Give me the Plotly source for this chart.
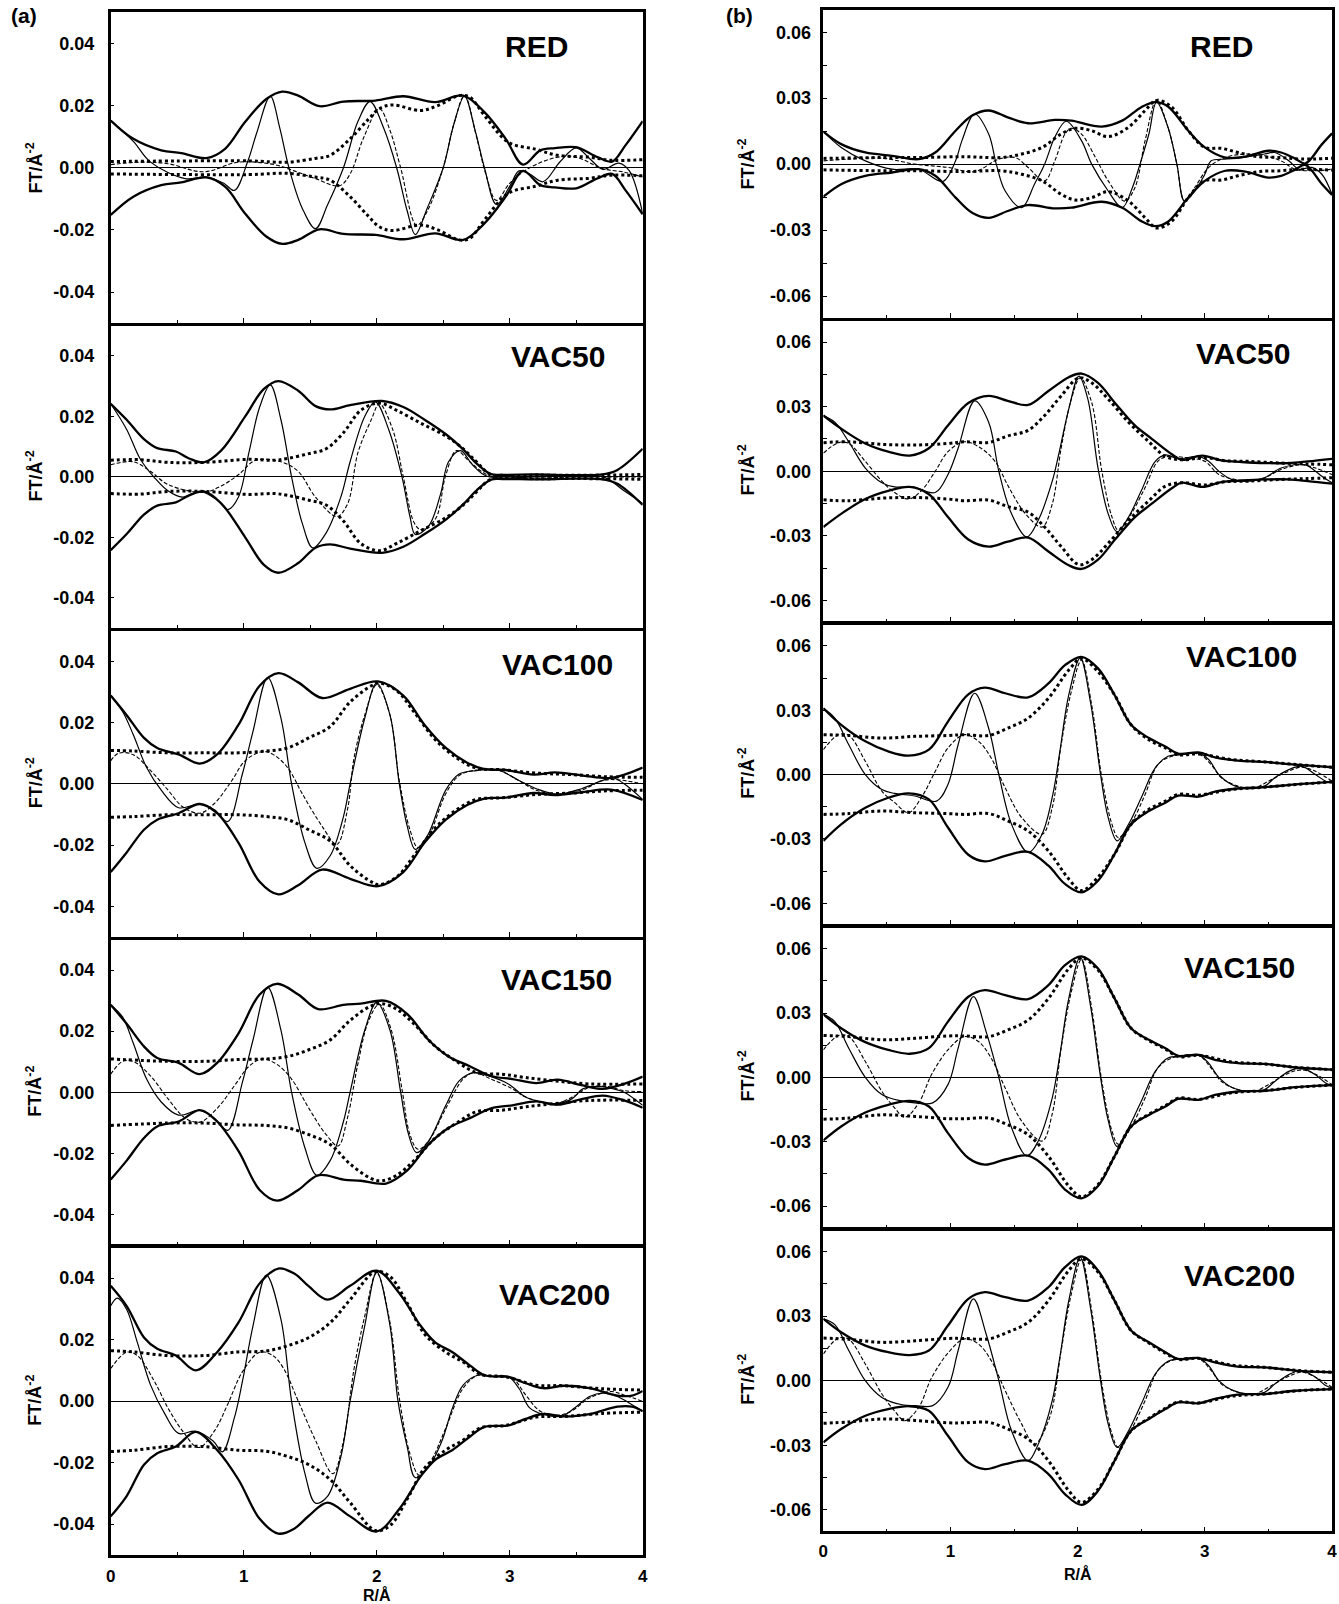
import plotly.graph_objects as go

W, H = 1339, 1604

# ------------------------------------------------------------------
# Data: (R / Å, FT / Å^-2) knots
# MAG = |FT| experimental, IM = Im(FT) experimental,
# FMAG = |FT| fit, FIM = Im(FT) fit
# ------------------------------------------------------------------
# ---------------- column (a) ----------------
A_RED_MAG = [(0, 0.0152), (0.17, 0.0093), (0.38, 0.0056), (0.53, 0.0047), (0.72, 0.0031), (0.86, 0.0061),
             (1.01, 0.0147), (1.17, 0.0221), (1.29, 0.0245), (1.41, 0.0232), (1.57, 0.0198), (1.75, 0.0213),
             (1.99, 0.0216), (2.2, 0.0230), (2.44, 0.0211), (2.65, 0.0232), (2.81, 0.0179), (2.97, 0.0093),
             (3.1, 0.0010), (3.23, 0.0056), (3.34, 0.0063), (3.5, 0.0066), (3.66, 0.0034), (3.77, 0.0020),
             (3.87, 0.0072), (4.0, 0.0150)]
A_RED_IM = [(0, 0.0152), (0.17, 0.0085), (0.3, 0.0018), (0.56, -0.0035), (0.72, -0.0030), (0.85, -0.005),
            (0.93, -0.0073), (1.03, 0.002), (1.1, 0.0115), (1.2, 0.023), (1.27, 0.013), (1.34, 0.0),
            (1.44, -0.013), (1.54, -0.0196), (1.63, -0.012), (1.75, 0.0), (1.86, 0.015), (1.95, 0.0213),
            (2.05, 0.013), (2.15, 0.0), (2.23, -0.014), (2.29, -0.0215), (2.38, -0.013), (2.5, 0.0),
            (2.58, 0.014), (2.66, 0.023), (2.74, 0.012), (2.81, 0.0), (2.9, -0.0118), (3.0, -0.006),
            (3.07, -0.001), (3.15, -0.002), (3.25, -0.0045), (3.38, 0.002), (3.5, 0.0064), (3.6, 0.003),
            (3.7, -0.0005), (3.82, 0.0015), (3.9, -0.001), (4.0, -0.0148)]
A_RED_FMAG = [(0, 0.0020), (1.04, 0.0022), (1.33, 0.0018), (1.54, 0.0030), (1.65, 0.0040), (1.8, 0.0093),
              (1.94, 0.0157), (2.02, 0.0190), (2.12, 0.0202), (2.33, 0.0184), (2.46, 0.0200), (2.62, 0.0232),
              (2.7, 0.0227), (2.81, 0.0168), (2.99, 0.0082), (3.2, 0.0059), (3.36, 0.0040), (3.6, 0.0034),
              (3.76, 0.0024), (4.0, 0.0026)]
A_RED_FIM = [(0, 0.001), (0.22, 0.0018), (0.43, 0.0013), (0.7, -0.0013), (0.96, 0.0018), (1.23, 0.001),
             (1.38, -0.001), (1.54, -0.0035), (1.72, -0.0058), (1.8, -0.002), (1.9, 0.0095), (2.02, 0.019),
             (2.1, 0.012), (2.18, 0.0), (2.3, -0.0185), (2.38, -0.014), (2.5, 0.0), (2.58, 0.014),
             (2.66, 0.0232), (2.75, 0.01), (2.82, -0.002), (2.9, -0.0105), (3.0, -0.005), (3.15, 0.0),
             (3.36, 0.0034), (3.5, 0.0034), (3.7, -0.0003), (3.86, -0.0014), (4.0, -0.003)]

A_V50_MAG = [(0, 0.0242), (0.12, 0.0189), (0.25, 0.0125), (0.35, 0.0095), (0.49, 0.0084), (0.59, 0.0061),
             (0.7, 0.0048), (0.83, 0.0087), (1.01, 0.0199), (1.15, 0.0290), (1.26, 0.0317), (1.41, 0.0285),
             (1.54, 0.0234), (1.65, 0.0223), (1.8, 0.0237), (2.04, 0.0251), (2.2, 0.0231), (2.36, 0.0189),
             (2.52, 0.0141), (2.65, 0.0091), (2.75, 0.0045), (2.86, 0.0009), (2.95, 0.0007), (3.2, 0.0008),
             (3.5, 0.0006), (3.7, 0.0008), (3.81, 0.0023), (4.0, 0.0093)]
A_V50_IM = [(0, 0.0242), (0.12, 0.0157), (0.22, 0.0061), (0.33, -0.0003), (0.43, -0.0046), (0.54, -0.0067),
            (0.67, -0.0048), (0.8, -0.0076), (0.88, -0.0108), (0.96, -0.0067), (1.04, 0.0082), (1.12, 0.0231),
            (1.2, 0.0304), (1.28, 0.0189), (1.36, 0.0), (1.44, -0.0153), (1.52, -0.0235), (1.62, -0.0185),
            (1.73, -0.0067), (1.8, 0.005), (1.91, 0.020), (1.99, 0.0248), (2.09, 0.0157), (2.19, 0.0),
            (2.25, -0.0131), (2.29, -0.019), (2.39, -0.0163), (2.48, -0.0057), (2.54, 0.005), (2.63, 0.0087),
            (2.72, 0.004), (2.83, 0.0002), (3.2, 0.0), (3.7, 0.0), (3.86, -0.0046), (4.0, -0.0088)]
A_V50_FMAG = [(0, 0.0055), (0.22, 0.0057), (0.43, 0.0048), (0.7, 0.0048), (1.04, 0.0058), (1.23, 0.0055),
              (1.33, 0.0061), (1.49, 0.0077), (1.62, 0.0093), (1.75, 0.0146), (1.88, 0.0220), (2.02, 0.0244),
              (2.15, 0.0220), (2.33, 0.0178), (2.52, 0.0135), (2.65, 0.0093), (2.75, 0.0050), (2.86, 0.0008),
              (3.2, 0.0006), (3.7, 0.0006), (4.0, 0.0008)]
A_V50_FIM = [(0, 0.004), (0.17, 0.005), (0.3, 0.0018), (0.43, -0.0025), (0.7, -0.0051), (0.83, -0.003),
             (0.96, 0.0007), (1.09, 0.0055), (1.28, 0.005), (1.41, 0.0018), (1.54, -0.0067), (1.7, -0.0131),
             (1.78, -0.009), (1.86, 0.0082), (1.96, 0.019), (2.02, 0.0242), (2.12, 0.0157), (2.2, 0.0),
             (2.28, -0.015), (2.33, -0.0174), (2.44, -0.014), (2.52, 0.0007), (2.6, 0.0087), (2.7, 0.005),
             (2.86, 0.0002), (3.5, 0.0), (4.0, 0.0)]

A_V100_MAG = [(0, 0.0288), (0.12, 0.0224), (0.25, 0.0150), (0.35, 0.0117), (0.51, 0.0096), (0.67, 0.0066),
              (0.8, 0.0096), (0.96, 0.0192), (1.12, 0.0320), (1.26, 0.0361), (1.41, 0.0331), (1.59, 0.0280),
              (1.8, 0.0310), (2.01, 0.0334), (2.2, 0.0288), (2.36, 0.0192), (2.52, 0.0117), (2.68, 0.0069),
              (2.81, 0.0048), (2.97, 0.0045), (3.18, 0.0030), (3.34, 0.0037), (3.55, 0.0027), (3.76, 0.0019),
              (4.0, 0.0053)]
A_V100_IM = [(0, 0.0288), (0.09, 0.0235), (0.17, 0.016), (0.27, 0.0053), (0.38, -0.0021), (0.51, -0.0078),
             (0.67, -0.0066), (0.78, -0.0085), (0.88, -0.0123), (0.99, 0.0032), (1.07, 0.0171), (1.18, 0.0347),
             (1.28, 0.0214), (1.36, 0.0), (1.46, -0.0192), (1.55, -0.0276), (1.65, -0.0235), (1.75, -0.0107),
             (1.8, 0.0), (1.91, 0.0214), (2.0, 0.0329), (2.1, 0.0224), (2.17, 0.0), (2.23, -0.0139),
             (2.29, -0.0214), (2.38, -0.0171), (2.52, -0.002), (2.62, 0.0032), (2.75, 0.0043), (2.91, 0.0045),
             (3.07, 0.0011), (3.2, -0.0016), (3.36, -0.0034), (3.54, -0.0016), (3.7, 0.0011), (3.78, 0.0019),
             (3.86, 0.0), (4.0, -0.0051)]
A_V100_FMAG = [(0, 0.0109), (0.17, 0.0107), (0.43, 0.0101), (0.7, 0.0101), (0.96, 0.0101), (1.17, 0.0107),
               (1.33, 0.0117), (1.49, 0.0150), (1.65, 0.0187), (1.8, 0.0267), (1.96, 0.0320), (2.02, 0.0329),
               (2.15, 0.0304), (2.28, 0.0235), (2.44, 0.0144), (2.6, 0.0085), (2.75, 0.0051), (2.94, 0.0046),
               (3.2, 0.0035), (3.47, 0.0030), (3.73, 0.0023), (4.0, 0.0021)]
A_V100_FIM = [(0, 0.0075), (0.06, 0.010), (0.17, 0.0095), (0.3, 0.0043), (0.43, -0.002), (0.54, -0.0075),
              (0.67, -0.0096), (0.78, -0.0064), (0.91, 0.001), (1.01, 0.0075), (1.14, 0.0105), (1.22, 0.0096),
              (1.33, 0.0053), (1.44, -0.0032), (1.59, -0.0139), (1.7, -0.0198), (1.78, -0.0085), (1.83, 0.0085),
              (1.91, 0.0224), (2.0, 0.0323), (2.1, 0.0224), (2.17, 0.001), (2.25, -0.015), (2.31, -0.0208),
              (2.39, -0.0171), (2.52, -0.0032), (2.62, 0.0027), (2.75, 0.0045), (2.91, 0.0045), (3.07, 0.001),
              (3.2, -0.0021), (3.36, -0.0034), (3.55, -0.0019), (3.7, 0.0011), (3.81, 0.0013), (4.0, 0.0)]

A_V150_MAG = [(0, 0.0286), (0.12, 0.0224), (0.25, 0.0150), (0.35, 0.0112), (0.51, 0.0096), (0.67, 0.0059),
              (0.8, 0.0096), (0.96, 0.0192), (1.12, 0.0320), (1.25, 0.0355), (1.41, 0.0320), (1.56, 0.0272),
              (1.75, 0.0286), (1.88, 0.0290), (2.07, 0.0299), (2.23, 0.0256), (2.39, 0.0171), (2.54, 0.0117),
              (2.7, 0.0085), (2.86, 0.0053), (3.02, 0.0043), (3.2, 0.0030), (3.36, 0.0041), (3.54, 0.0023),
              (3.7, 0.0011), (3.86, 0.0027), (4.0, 0.0051)]
A_V150_IM = [(0, 0.0286), (0.09, 0.0246), (0.17, 0.016), (0.27, 0.0043), (0.38, -0.0032), (0.51, -0.0075),
             (0.67, -0.0059), (0.78, -0.0085), (0.88, -0.0125), (0.99, 0.0032), (1.07, 0.0171), (1.18, 0.0344),
             (1.28, 0.0203), (1.36, 0.0), (1.46, -0.0182), (1.55, -0.0272), (1.65, -0.0224), (1.75, -0.0096),
             (1.8, 0.0), (1.91, 0.0203), (2.0, 0.0294), (2.1, 0.0203), (2.18, 0.0), (2.24, -0.0139),
             (2.3, -0.0198), (2.39, -0.016), (2.52, -0.0043), (2.62, 0.0037), (2.73, 0.0064), (2.86, 0.0051),
             (2.99, 0.0027), (3.12, -0.0016), (3.23, -0.0032), (3.34, -0.004), (3.47, -0.0021), (3.55, 0.0011),
             (3.68, 0.0019), (3.78, 0.0011), (3.86, 0.0), (4.0, -0.0043)]
A_V150_FMAG = [(0, 0.0109), (0.43, 0.0101), (0.7, 0.0101), (0.96, 0.0107), (1.17, 0.0109), (1.33, 0.0117),
               (1.49, 0.0139), (1.65, 0.0171), (1.8, 0.0235), (1.96, 0.0283), (2.04, 0.0290), (2.15, 0.0272),
               (2.28, 0.0224), (2.44, 0.0150), (2.6, 0.0101), (2.75, 0.0064), (2.94, 0.0059), (3.12, 0.0048),
               (3.34, 0.0037), (3.6, 0.0027), (4.0, 0.0027)]
A_V150_FIM = [(0, 0.0059), (0.09, 0.0101), (0.17, 0.0101), (0.3, 0.0053), (0.43, -0.0021), (0.56, -0.0085),
              (0.67, -0.0098), (0.8, -0.0053), (0.93, 0.0021), (1.04, 0.0085), (1.14, 0.0109), (1.25, 0.0091),
              (1.36, 0.0043), (1.49, -0.0053), (1.62, -0.0139), (1.71, -0.0176), (1.78, -0.0085), (1.86, 0.0096),
              (1.94, 0.0235), (2.02, 0.0288), (2.11, 0.0203), (2.19, 0.001), (2.25, -0.0139), (2.31, -0.0187),
              (2.39, -0.016), (2.52, -0.0053), (2.65, 0.0043), (2.73, 0.0064), (2.86, 0.0043), (3.02, 0.0011),
              (3.12, -0.0016), (3.34, -0.0037), (3.47, -0.0016), (3.6, 0.0016), (3.73, 0.0019), (3.86, 0.0005),
              (4.0, 0.0002)]

A_V200_MAG = [(0, 0.0375), (0.12, 0.0309), (0.25, 0.0207), (0.35, 0.0170), (0.49, 0.0148), (0.64, 0.0100),
              (0.8, 0.0159), (0.96, 0.0255), (1.12, 0.0383), (1.26, 0.0431), (1.38, 0.0415), (1.49, 0.0373),
              (1.63, 0.0330), (1.8, 0.0375), (2.0, 0.0424), (2.17, 0.0351), (2.33, 0.0245), (2.44, 0.0191),
              (2.57, 0.0159), (2.7, 0.0116), (2.81, 0.0084), (2.99, 0.0079), (3.12, 0.0058), (3.25, 0.0042),
              (3.41, 0.0050), (3.6, 0.0042), (3.81, 0.0018), (3.92, 0.0018), (4.0, 0.0033)]
A_V200_IM = [(0, 0.031), (0.05, 0.0335), (0.12, 0.0298), (0.2, 0.0191), (0.3, 0.0052), (0.41, -0.0044),
             (0.51, -0.0105), (0.64, -0.0098), (0.77, -0.013), (0.84, -0.0165), (0.93, -0.0054), (0.99, 0.0063),
             (1.07, 0.0245), (1.17, 0.041), (1.28, 0.0266), (1.36, 0.0), (1.46, -0.0235), (1.54, -0.0332),
             (1.63, -0.031), (1.73, -0.0182), (1.8, 0.0), (1.91, 0.0245), (2.0, 0.042), (2.1, 0.0245),
             (2.16, 0.0), (2.23, -0.015), (2.29, -0.0249), (2.39, -0.0215), (2.49, -0.013), (2.57, -0.0022),
             (2.65, 0.0052), (2.76, 0.0084), (2.89, 0.0079), (2.99, 0.0079), (3.07, 0.0041), (3.15, -0.0022),
             (3.26, -0.0044), (3.39, -0.0049), (3.49, -0.0022), (3.6, 0.0015), (3.7, 0.0026), (3.81, 0.0015),
             (3.92, -0.0012), (4.0, -0.0033)]
A_V200_FMAG = [(0, 0.0164), (0.17, 0.0160), (0.43, 0.0148), (0.7, 0.0148), (0.96, 0.0160), (1.17, 0.0163),
               (1.33, 0.0180), (1.49, 0.0207), (1.65, 0.0255), (1.8, 0.0330), (1.99, 0.0421), (2.1, 0.0405),
               (2.23, 0.0318), (2.36, 0.0218), (2.52, 0.0159), (2.65, 0.0127), (2.78, 0.0087), (2.97, 0.0079),
               (3.2, 0.0052), (3.41, 0.0050), (3.7, 0.0040), (4.0, 0.0036)]
A_V200_FIM = [(0, 0.0106), (0.12, 0.0159), (0.2, 0.0148), (0.33, 0.0063), (0.43, -0.0022), (0.54, -0.0097),
              (0.66, -0.0151), (0.78, -0.0097), (0.88, -0.001), (0.99, 0.0095), (1.12, 0.0159), (1.22, 0.0148),
              (1.3, 0.0106), (1.41, 0.0), (1.54, -0.0128), (1.67, -0.0236), (1.75, -0.013), (1.83, 0.0106),
              (1.91, 0.0276), (2.0, 0.0417), (2.1, 0.0255), (2.17, 0.001), (2.25, -0.0172), (2.32, -0.0241),
              (2.41, -0.0193), (2.52, -0.0087), (2.65, 0.0042), (2.76, 0.0084), (2.89, 0.0079), (3.02, 0.0074),
              (3.12, 0.002), (3.23, -0.0033), (3.36, -0.0046), (3.47, -0.0031), (3.6, 0.001), (3.76, 0.0031),
              (3.86, 0.002), (4.0, -0.0001)]

# ---------------- column (b) ----------------
B_RED_MAG = [(0, 0.0148), (0.14, 0.0091), (0.33, 0.0053), (0.54, 0.0038), (0.75, 0.0023), (0.88, 0.0053),
             (1.04, 0.0152), (1.17, 0.0221), (1.3, 0.0244), (1.45, 0.0213), (1.61, 0.0186), (1.82, 0.0201),
             (1.95, 0.0198), (2.19, 0.0171), (2.35, 0.0198), (2.5, 0.0259), (2.61, 0.0282), (2.71, 0.0262),
             (2.87, 0.0152), (3.0, 0.0076), (3.16, 0.0030), (3.32, 0.0034), (3.5, 0.0061), (3.6, 0.0053),
             (3.71, 0.0025), (3.79, 0.0003), (3.92, 0.0090), (4.0, 0.0140)]
B_RED_IM = [(0, 0.0148), (0.14, 0.0076), (0.33, 0.0015), (0.54, -0.0023), (0.75, -0.0023), (0.94, -0.0079),
            (1.04, 0.0015), (1.09, 0.0107), (1.19, 0.0228), (1.3, 0.0137), (1.36, 0.0), (1.43, -0.0122),
            (1.56, -0.0198), (1.66, -0.0091), (1.74, 0.0), (1.82, 0.0122), (1.91, 0.0195), (2.03, 0.0107),
            (2.11, 0.0), (2.24, -0.0122), (2.35, -0.0198), (2.43, -0.0107), (2.49, 0.0), (2.56, 0.0137),
            (2.62, 0.0282), (2.71, 0.0168), (2.78, 0.0), (2.84, -0.0168), (2.92, -0.0122), (3.0, -0.0046),
            (3.05, 0.0015), (3.16, 0.0023), (3.29, 0.003), (3.47, 0.0046), (3.55, 0.0053), (3.66, 0.0015),
            (3.74, -0.0023), (3.84, -0.0015), (3.92, -0.0046), (4.0, -0.0137)]
B_RED_FMAG = [(0, 0.0026), (0.46, 0.0030), (0.75, 0.0030), (1.11, 0.0034), (1.4, 0.0030), (1.56, 0.0046),
              (1.72, 0.0076), (1.87, 0.0137), (1.98, 0.0163), (2.11, 0.0152), (2.24, 0.0125), (2.4, 0.0168),
              (2.53, 0.0244), (2.62, 0.0290), (2.74, 0.0259), (2.87, 0.0152), (3.0, 0.0076), (3.13, 0.0072),
              (3.26, 0.0053), (3.42, 0.0034), (3.6, 0.0030), (3.76, 0.0023), (4.0, 0.0027)]
B_RED_FIM = [(0, 0.0015), (0.2, 0.0023), (0.46, 0.0027), (0.72, 0.0), (0.98, -0.0015), (1.19, -0.0034),
             (1.38, 0.0023), (1.51, 0.003), (1.61, -0.0015), (1.74, -0.0076), (1.82, 0.0015), (1.9, 0.0137),
             (1.95, 0.0163), (2.03, 0.0137), (2.14, 0.003), (2.24, -0.0076), (2.37, -0.0168), (2.45, -0.0107),
             (2.53, 0.0107), (2.62, 0.029), (2.71, 0.0168), (2.78, 0.0), (2.84, -0.0168), (2.92, -0.0107),
             (3.03, -0.0015), (3.16, 0.003), (3.32, 0.0046), (3.47, 0.0038), (3.6, 0.0015), (3.71, -0.0023),
             (3.87, -0.003), (4.0, -0.0023)]

B_V50_MAG = [(0, 0.0259), (0.14, 0.0198), (0.33, 0.0129), (0.51, 0.0091), (0.68, 0.0073), (0.83, 0.0107),
             (0.98, 0.0213), (1.14, 0.0317), (1.3, 0.0350), (1.45, 0.0327), (1.61, 0.0308), (1.77, 0.0373),
             (1.93, 0.0437), (2.03, 0.0454), (2.16, 0.0411), (2.29, 0.0320), (2.45, 0.0213), (2.58, 0.0152),
             (2.74, 0.0079), (2.82, 0.0053), (2.98, 0.0073), (3.13, 0.0050), (3.29, 0.0043), (3.47, 0.0038),
             (3.66, 0.0038), (3.81, 0.0046), (4.0, 0.0058)]
B_V50_IM = [(0, 0.0259), (0.09, 0.0228), (0.2, 0.0137), (0.33, 0.0015), (0.46, -0.0053), (0.56, -0.0073),
            (0.7, -0.0073), (0.88, -0.0099), (0.98, -0.0015), (1.06, 0.0107), (1.19, 0.0327), (1.3, 0.0228),
            (1.38, 0.0), (1.48, -0.0198), (1.6, -0.0305), (1.69, -0.0228), (1.8, -0.0046), (1.85, 0.0076),
            (1.93, 0.0289), (2.01, 0.0442), (2.08, 0.0335), (2.16, 0.0015), (2.24, -0.0198), (2.31, -0.0282),
            (2.4, -0.0213), (2.5, -0.0091), (2.61, 0.0046), (2.69, 0.0076), (2.79, 0.0058), (2.95, 0.0069),
            (3.03, 0.0046), (3.11, 0.0), (3.21, -0.0038), (3.34, -0.0046), (3.47, -0.003), (3.6, 0.0015),
            (3.79, 0.003), (3.87, 0.0), (3.92, -0.0023), (4.0, -0.0053)]
B_V50_FMAG = [(0, 0.0133), (0.2, 0.0137), (0.46, 0.0125), (0.72, 0.0122), (0.98, 0.0129), (1.11, 0.0137),
              (1.3, 0.0134), (1.45, 0.0164), (1.61, 0.0190), (1.74, 0.0259), (1.87, 0.0350), (2.01, 0.0434),
              (2.11, 0.0411), (2.24, 0.0335), (2.4, 0.0228), (2.56, 0.0137), (2.69, 0.0069), (2.82, 0.0053),
              (3.0, 0.0064), (3.16, 0.0049), (3.34, 0.0046), (3.6, 0.0038), (3.81, 0.0034), (4.0, 0.0030)]
B_V50_FIM = [(0, 0.0084), (0.12, 0.0133), (0.2, 0.0129), (0.33, 0.0046), (0.46, -0.0046), (0.56, -0.0099),
             (0.67, -0.0129), (0.77, -0.0091), (0.88, 0.0), (0.98, 0.0091), (1.11, 0.0137), (1.24, 0.0107),
             (1.35, 0.0046), (1.46, -0.0076), (1.59, -0.0198), (1.72, -0.0259), (1.8, -0.0152), (1.87, 0.0107),
             (1.95, 0.0335), (2.02, 0.0434), (2.11, 0.032), (2.19, 0.0), (2.27, -0.0213), (2.32, -0.0274),
             (2.42, -0.0198), (2.53, -0.0076), (2.63, 0.0046), (2.71, 0.0069), (2.87, 0.0061), (3.0, 0.0046),
             (3.11, -0.0015), (3.24, -0.0038), (3.34, -0.0046), (3.47, -0.003), (3.6, 0.0008), (3.76, 0.003),
             (3.87, 0.0015), (4.0, -0.0015)]

B_V100_MAG = [(0, 0.0309), (0.14, 0.0232), (0.33, 0.0155), (0.51, 0.0108), (0.67, 0.0088), (0.83, 0.0116),
              (0.98, 0.0247), (1.14, 0.0374), (1.27, 0.0405), (1.43, 0.0379), (1.61, 0.0360), (1.77, 0.0425),
              (1.9, 0.0510), (2.03, 0.0549), (2.16, 0.0495), (2.29, 0.0371), (2.42, 0.0232), (2.56, 0.0170),
              (2.69, 0.0131), (2.79, 0.0098), (2.95, 0.0103), (3.08, 0.0080), (3.26, 0.0065), (3.47, 0.0059),
              (3.71, 0.0046), (4.0, 0.0034)]
B_V100_IM = [(0, 0.0309), (0.09, 0.0263), (0.2, 0.0139), (0.33, 0.0), (0.46, -0.007), (0.56, -0.0088),
             (0.72, -0.01), (0.89, -0.0124), (0.98, -0.0046), (1.06, 0.0139), (1.19, 0.0379), (1.3, 0.0216),
             (1.38, 0.0), (1.48, -0.0232), (1.61, -0.0363), (1.72, -0.0278), (1.81, -0.0077), (1.86, 0.0108),
             (1.93, 0.0371), (2.02, 0.0544), (2.1, 0.034), (2.18, 0.0), (2.24, -0.0201), (2.31, -0.0309),
             (2.4, -0.0232), (2.5, -0.0108), (2.61, 0.0031), (2.71, 0.0085), (2.82, 0.0093), (2.95, 0.010),
             (3.03, 0.007), (3.11, 0.0), (3.21, -0.0046), (3.34, -0.0065), (3.47, -0.0054), (3.55, -0.0015),
             (3.66, 0.0023), (3.76, 0.0039), (3.87, 0.0), (3.95, -0.0031), (4.0, -0.0039)]
B_V100_FMAG = [(0, 0.0186), (0.2, 0.0182), (0.46, 0.0170), (0.72, 0.0178), (0.98, 0.0182), (1.11, 0.0186),
               (1.3, 0.0182), (1.45, 0.0216), (1.61, 0.0263), (1.77, 0.0356), (1.93, 0.0487), (2.03, 0.0541),
               (2.16, 0.0479), (2.29, 0.0371), (2.42, 0.0232), (2.56, 0.0162), (2.69, 0.0124), (2.79, 0.0093),
               (2.95, 0.0096), (3.21, 0.0070), (3.47, 0.0059), (3.73, 0.0046), (4.0, 0.0034)]
B_V100_FIM = [(0, 0.0116), (0.12, 0.0186), (0.2, 0.0183), (0.33, 0.0062), (0.46, -0.0077), (0.56, -0.013),
              (0.67, -0.0178), (0.77, -0.0108), (0.88, 0.0015), (0.98, 0.0124), (1.11, 0.0186), (1.22, 0.0155),
              (1.32, 0.0077), (1.43, -0.0062), (1.56, -0.0201), (1.72, -0.0278), (1.8, -0.0155), (1.87, 0.0139),
              (1.95, 0.0387), (2.03, 0.0533), (2.11, 0.0325), (2.19, -0.0015), (2.27, -0.0232), (2.32, -0.0294),
              (2.43, -0.0216), (2.53, -0.0093), (2.63, 0.0046), (2.74, 0.0085), (2.95, 0.0096), (3.05, 0.0046),
              (3.13, -0.0015), (3.26, -0.0054), (3.39, -0.0062), (3.5, -0.0031), (3.63, 0.0008), (3.76, 0.0034),
              (3.87, 0.0015), (4.0, -0.0031)]

B_V150_MAG = [(0, 0.0294), (0.14, 0.0229), (0.33, 0.0164), (0.51, 0.0128), (0.68, 0.0110), (0.83, 0.0136),
              (0.98, 0.0260), (1.14, 0.0376), (1.27, 0.0407), (1.43, 0.0383), (1.61, 0.0365), (1.77, 0.0430),
              (1.9, 0.0523), (2.03, 0.0564), (2.16, 0.0507), (2.29, 0.0368), (2.42, 0.0229), (2.56, 0.0175),
              (2.69, 0.0136), (2.79, 0.0100), (2.95, 0.0105), (3.08, 0.0082), (3.26, 0.0066), (3.47, 0.0063),
              (3.71, 0.0046), (4.0, 0.0036)]
B_V150_IM = [(0, 0.0294), (0.09, 0.026), (0.2, 0.0136), (0.33, 0.0), (0.46, -0.008), (0.62, -0.0111),
             (0.72, -0.0119), (0.86, -0.0119), (0.98, -0.0034), (1.06, 0.0136), (1.18, 0.0376), (1.28, 0.0213),
             (1.38, 0.0), (1.48, -0.0235), (1.6, -0.0366), (1.69, -0.0297), (1.8, -0.0096), (1.86, 0.0105),
             (1.93, 0.0368), (2.02, 0.0561), (2.1, 0.0337), (2.18, 0.0), (2.24, -0.0201), (2.31, -0.0322),
             (2.4, -0.0235), (2.5, -0.0111), (2.61, 0.0028), (2.71, 0.009), (2.82, 0.0097), (2.95, 0.0105),
             (3.03, 0.0066), (3.11, 0.0), (3.21, -0.0046), (3.34, -0.0065), (3.47, -0.0057), (3.55, -0.0019),
             (3.66, 0.0028), (3.76, 0.0043), (3.87, 0.0012), (3.95, -0.0026), (4.0, -0.0037)]
B_V150_FMAG = [(0, 0.0195), (0.2, 0.0190), (0.46, 0.0175), (0.72, 0.0182), (0.98, 0.0193), (1.11, 0.0193),
               (1.3, 0.0190), (1.45, 0.0221), (1.61, 0.0267), (1.77, 0.0368), (1.93, 0.0507), (2.03, 0.0557),
               (2.16, 0.0500), (2.29, 0.0368), (2.42, 0.0229), (2.56, 0.0172), (2.69, 0.0132), (2.79, 0.0097),
               (2.95, 0.0103), (3.21, 0.0072), (3.47, 0.0062), (3.73, 0.0046), (4.0, 0.0036)]
B_V150_FIM = [(0, 0.0128), (0.12, 0.0195), (0.2, 0.019), (0.33, 0.0074), (0.46, -0.0065), (0.56, -0.0142),
              (0.64, -0.0186), (0.75, -0.012), (0.85, 0.0012), (0.98, 0.0128), (1.11, 0.019), (1.22, 0.0167),
              (1.32, 0.009), (1.43, -0.005), (1.56, -0.0204), (1.72, -0.0297), (1.8, -0.017), (1.87, 0.0136),
              (1.95, 0.0399), (2.03, 0.055), (2.11, 0.0323), (2.19, -0.0019), (2.27, -0.0251), (2.32, -0.0312),
              (2.43, -0.022), (2.53, -0.0096), (2.63, 0.0043), (2.74, 0.009), (2.95, 0.0102), (3.05, 0.0043),
              (3.13, -0.0019), (3.26, -0.0057), (3.39, -0.0065), (3.5, -0.0034), (3.63, 0.0012), (3.76, 0.0035),
              (3.87, 0.0015), (4.0, -0.0034)]

B_V200_MAG = [(0, 0.0287), (0.14, 0.0225), (0.33, 0.0163), (0.51, 0.0132), (0.68, 0.0119), (0.83, 0.0140),
              (0.98, 0.0256), (1.14, 0.0380), (1.27, 0.0411), (1.43, 0.0388), (1.61, 0.0372), (1.77, 0.0434),
              (1.9, 0.0527), (2.03, 0.0577), (2.16, 0.0512), (2.29, 0.0372), (2.42, 0.0233), (2.56, 0.0178),
              (2.69, 0.0132), (2.79, 0.0101), (2.95, 0.0105), (3.08, 0.0085), (3.26, 0.0065), (3.47, 0.0062),
              (3.71, 0.0047), (4.0, 0.0039)]
B_V200_IM = [(0, 0.0287), (0.09, 0.026), (0.2, 0.014), (0.33, 0.0), (0.46, -0.0078), (0.62, -0.0112),
             (0.72, -0.0116), (0.86, -0.0116), (0.98, -0.0031), (1.06, 0.014), (1.18, 0.038), (1.28, 0.0217),
             (1.38, 0.0), (1.48, -0.0233), (1.61, -0.0372), (1.69, -0.0295), (1.8, -0.0093), (1.86, 0.0109),
             (1.93, 0.0372), (2.02, 0.0574), (2.1, 0.0341), (2.18, 0.0), (2.24, -0.0202), (2.31, -0.031),
             (2.4, -0.0233), (2.5, -0.0109), (2.61, 0.0031), (2.71, 0.009), (2.82, 0.0101), (2.95, 0.0105),
             (3.03, 0.007), (3.11, 0.0), (3.21, -0.0043), (3.34, -0.0062), (3.47, -0.0054), (3.55, -0.0016),
             (3.66, 0.0028), (3.76, 0.0047), (3.87, 0.0016), (3.95, -0.0023), (4.0, -0.0034)]
B_V200_FMAG = [(0, 0.0198), (0.2, 0.0192), (0.46, 0.0178), (0.72, 0.0185), (0.98, 0.0196), (1.11, 0.0196),
               (1.3, 0.0194), (1.45, 0.0225), (1.61, 0.0271), (1.77, 0.0372), (1.93, 0.0512), (2.03, 0.0566),
               (2.16, 0.0505), (2.29, 0.0372), (2.42, 0.0233), (2.56, 0.0175), (2.69, 0.0128), (2.79, 0.0099),
               (2.95, 0.0104), (3.21, 0.0072), (3.47, 0.0062), (3.73, 0.0047), (4.0, 0.0039)]
B_V200_FIM = [(0, 0.0124), (0.12, 0.0198), (0.2, 0.0192), (0.33, 0.0077), (0.46, -0.0062), (0.56, -0.014),
              (0.64, -0.0186), (0.75, -0.0124), (0.85, 0.0012), (0.98, 0.0128), (1.11, 0.0194), (1.22, 0.017),
              (1.32, 0.0093), (1.43, -0.0046), (1.56, -0.0202), (1.66, -0.0295), (1.78, -0.017), (1.87, 0.014),
              (1.95, 0.0403), (2.03, 0.0563), (2.11, 0.0326), (2.19, -0.0016), (2.27, -0.0248), (2.32, -0.031),
              (2.43, -0.0217), (2.53, -0.0093), (2.63, 0.0046), (2.74, 0.0093), (2.95, 0.0102), (3.05, 0.0047),
              (3.13, -0.0016), (3.26, -0.0054), (3.39, -0.0062), (3.5, -0.0031), (3.63, 0.0012), (3.76, 0.0039),
              (3.87, 0.0016), (4.0, -0.0031)]

SAMPLES = ["RED", "VAC50", "VAC100", "VAC150", "VAC200"]
R_TICKS = [0, 1, 2, 3, 4]
A_YTICKS = [-0.04, -0.02, 0.0, 0.02, 0.04]
B_YTICKS = [-0.06, -0.03, 0.0, 0.03, 0.06]

COL_A = [(A_RED_MAG, A_RED_IM, A_RED_FMAG, A_RED_FIM),
         (A_V50_MAG, A_V50_IM, A_V50_FMAG, A_V50_FIM),
         (A_V100_MAG, A_V100_IM, A_V100_FMAG, A_V100_FIM),
         (A_V150_MAG, A_V150_IM, A_V150_FMAG, A_V150_FIM),
         (A_V200_MAG, A_V200_IM, A_V200_FMAG, A_V200_FIM)]
COL_B = [(B_RED_MAG, B_RED_IM, B_RED_FMAG, B_RED_FIM),
         (B_V50_MAG, B_V50_IM, B_V50_FMAG, B_V50_FIM),
         (B_V100_MAG, B_V100_IM, B_V100_FMAG, B_V100_FIM),
         (B_V150_MAG, B_V150_IM, B_V150_FMAG, B_V150_FIM),
         (B_V200_MAG, B_V200_IM, B_V200_FMAG, B_V200_FIM)]

# ------------------------------------------------------------------
# Layout (pixel geometry of the panels)
# ------------------------------------------------------------------
LW = 2.5  # frame line width
COLS = [
    dict(x=(106.5, 642.5), rows=[(12.3, 323.2), (323.2, 628.1), (628.1, 937.0), (937.0, 1244.9), (1244.9, 1554.8)],
         yr=0.05, ticks=A_YTICKS, minor=[], fmt="{:.2f}", data=COL_A, standoff=10, xstandoff=4,
         label_pos=[(3.2, 0.039), (3.36, 0.0398), (3.36, 0.039), (3.35, 0.037), (3.34, 0.0348)],
         title_x=30, tag="(a)", tag_xy=(19, 15), rlabel_y=1595),
    dict(x=(824.5, 1337.0), rows=[(10.2, 318.1), (318.1, 621.9), (621.9, 924.7), (924.7, 1227.5), (1227.5, 1531.3)],
         yr=0.07, ticks=B_YTICKS, minor=[-0.045, -0.015, 0.015, 0.045], fmt="{:.2f}", data=COL_B, standoff=6,
         xstandoff=3,
         label_pos=[(3.13, 0.0535), (3.3, 0.0546), (3.29, 0.0551), (3.27, 0.0511), (3.27, 0.049)],
         title_x=747, tag="(b)", tag_xy=(740, 15), rlabel_y=1574),
]

FONT = "Liberation Sans, Arial, sans-serif"

fig = go.Figure()
layout = dict(width=W, height=H, margin=dict(l=0, r=0, t=0, b=0),
              paper_bgcolor="white", plot_bgcolor="white", showlegend=False,
              font=dict(family=FONT, color="black"))
annotations = []


def fx(px):
    return px / W


def fy(py):
    return 1 - py / H


n = 0
for c, col in enumerate(COLS):
    for r, (top, bot) in enumerate(col["rows"]):
        n += 1
        xn = "x" if n == 1 else f"x{n}"
        yn = "y" if n == 1 else f"y{n}"
        mag, im, fmag, fim = col["data"][r]

        def X(p):
            return [q[0] for q in p]

        def Y(p, s=1):
            return [s * q[1] for q in p]

        common = dict(xaxis=xn, yaxis=yn, mode="lines", hoverinfo="skip")
        # fit imaginary part (thin dashed)
        fig.add_trace(go.Scatter(x=X(fim), y=Y(fim), line=dict(color="black", width=1.1, dash="4px,2px",
                                                                  shape="spline", smoothing=1.0), **common))
        # experimental imaginary part (thin solid)
        fig.add_trace(go.Scatter(x=X(im), y=Y(im), line=dict(color="black", width=1.2,
                                                                shape="spline", smoothing=1.0), **common))
        # fit magnitude +/- (thick dotted)
        for s in (1, -1):
            fig.add_trace(go.Scatter(x=X(fmag), y=Y(fmag, s), line=dict(color="black", width=3, dash="dot",
                                                                         shape="spline", smoothing=1.0), **common))
        # experimental magnitude +/- (thick solid)
        for s in (1, -1):
            fig.add_trace(go.Scatter(x=X(mag), y=Y(mag, s), line=dict(color="black", width=2.3,
                                                                       shape="spline", smoothing=1.0), **common))

        # panels below the first one start one frame width lower so the shared frame lines overlap
        top_px = top + (LW if r > 0 else 0)
        bottom = (r == len(col["rows"]) - 1)
        layout["xaxis" if n == 1 else f"xaxis{n}"] = dict(
            domain=[fx(col["x"][0]), fx(col["x"][1])], anchor=yn, range=[0, 4],
            showline=True, mirror=True, linewidth=LW, linecolor="black",
            showgrid=False, zeroline=False, ticks="inside", ticklen=5, tickwidth=1, tickcolor="black",
            tickvals=R_TICKS, ticktext=[str(v) for v in R_TICKS],
            minor=dict(tickvals=[0.5, 1.5, 2.5, 3.5], ticks="inside", ticklen=3, tickwidth=1, tickcolor="black"),
            showticklabels=bottom, ticklabelstandoff=col["xstandoff"],
            tickfont=dict(family=FONT, size=17, weight="bold", color="black"))
        yr = col["yr"]
        layout["yaxis" if n == 1 else f"yaxis{n}"] = dict(
            domain=[fy(bot), fy(top_px)], anchor=xn, range=[-yr, yr],
            showline=True, mirror=True, linewidth=LW, linecolor="black",
            showgrid=False, zeroline=True, zerolinewidth=1, zerolinecolor="black",
            ticks="inside", ticklen=4, tickwidth=1, tickcolor="black",
            tickvals=col["ticks"], ticktext=[col["fmt"].format(v) for v in col["ticks"]],
            minor=dict(tickvals=col["minor"], ticks="inside", ticklen=4, tickwidth=1, tickcolor="black"),
            ticklabelstandoff=col["standoff"],
            tickfont=dict(family=FONT, size=18, weight="bold", color="black"))

        lx, ly = col["label_pos"][r]
        annotations.append(dict(xref=xn, yref=yn, x=lx, y=ly, text=SAMPLES[r], showarrow=False,
                                xanchor="center", yanchor="middle",
                                font=dict(family=FONT, size=30, weight="bold", color="black")))
        annotations.append(dict(xref="paper", yref="paper", x=fx(col["title_x"]), y=fy((top + bot) / 2),
                                text="FT/Å<sup>-2</sup>", textangle=-90, showarrow=False,
                                xanchor="center", yanchor="middle",
                                font=dict(family=FONT, size=18, weight="bold", color="black")))
    annotations.append(dict(xref="paper", yref="paper", x=fx(col["tag_xy"][0]), y=fy(col["tag_xy"][1]),
                            text=col["tag"], showarrow=False, xanchor="center", yanchor="middle",
                            font=dict(family=FONT, size=21, weight="bold", color="black")))
    annotations.append(dict(xref="paper", yref="paper", x=fx((col["x"][0] + col["x"][1]) / 2),
                            y=fy(col["rlabel_y"]), text="R/Å", showarrow=False,
                            xanchor="center", yanchor="middle",
                            font=dict(family=FONT, size=16, weight="bold", color="black")))

layout["annotations"] = annotations
fig.update_layout(**layout)
fig.write_html("out.html")
